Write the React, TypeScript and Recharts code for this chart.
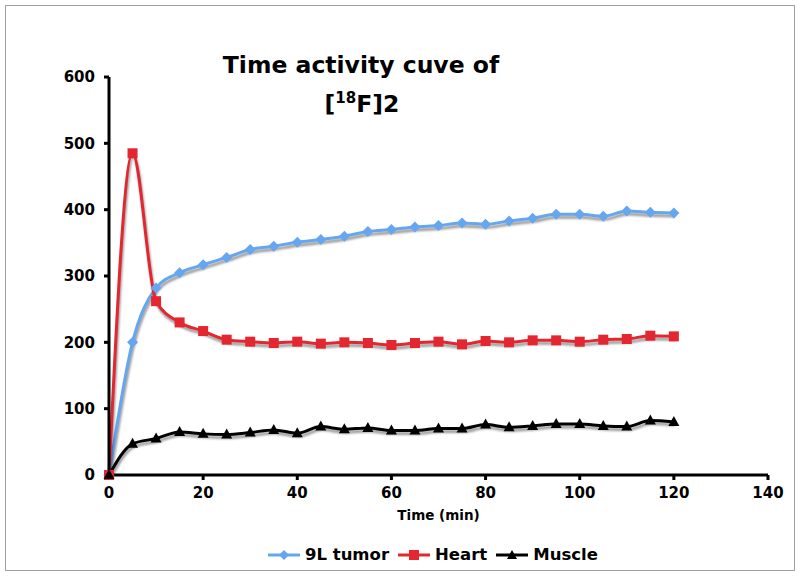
import React from 'react';
import { LineChart, Line, XAxis, YAxis } from 'recharts';

const times = [0, 5, 10, 15, 20, 25, 30, 35, 40, 45, 50, 55, 60, 65, 70, 75, 80, 85, 90, 95, 100, 105, 110, 115, 120];
const tumor = [0, 200, 282, 305, 317, 328, 340, 345, 351, 355, 360, 367, 370, 374, 376, 380, 378, 383, 387, 393, 393, 390, 398, 396, 395];
const heart = [0, 485, 262, 230, 217, 204, 201, 199, 201, 198, 200, 199, 196, 199, 201, 197, 202, 200, 203, 203, 201, 204, 205, 210, 209];
const muscle = [0, 47, 55, 65, 62, 61, 64, 68, 63, 73, 69, 71, 67, 67, 70, 70, 76, 72, 74, 77, 77, 74, 73, 82, 80];
const xTicks = [0, 20, 40, 60, 80, 100, 120, 140];
const yTicks = [0, 100, 200, 300, 400, 500, 600];
const seriesNames = ['9L tumor', 'Heart', 'Muscle'];

const data = times.map((t, i) => ({ t, tumor: tumor[i], heart: heart[i], muscle: muscle[i] }));

const BLUE = '#64a6f0';
const RED = '#e3262f';
const BLACK = '#000000';
const FONT = '"DejaVu Sans", Verdana, sans-serif';

const Diamond = (props: any) => {
  const { cx, cy, index } = props;
  if (cx == null || cy == null) return <g key={`d${index}`} />;
  const s = 5.5;
  return <path key={`d${index}`} d={`M${cx},${cy - s}L${cx + s},${cy}L${cx},${cy + s}L${cx - s},${cy}Z`} fill={BLUE} />;
};
const Square = (props: any) => {
  const { cx, cy, index } = props;
  if (cx == null || cy == null) return <g key={`s${index}`} />;
  const s = 5;
  return <rect key={`s${index}`} x={cx - s} y={cy - s} width={2 * s} height={2 * s} fill={RED} />;
};
const Triangle = (props: any) => {
  const { cx, cy, index } = props;
  if (cx == null || cy == null) return <g key={`t${index}`} />;
  return <path key={`t${index}`} d={`M${cx},${cy - 6}L${cx + 5.5},${cy + 4}L${cx - 5.5},${cy + 4}Z`} fill={BLACK} />;
};

const tickStyle = { fontFamily: FONT, fontWeight: 700, fontSize: 15, fill: '#000' };

const LegendItem = ({ color, shape, label }: { color: string; shape: string; label: string }) => (
  <div style={{ display: 'flex', alignItems: 'center', marginRight: 8 }}>
    <svg width={34} height={14}>
      <line x1={1} y1={7} x2={33} y2={7} stroke={color} strokeWidth={3} />
      {shape === 'diamond' && <path d="M17,2L22,7L17,12L12,7Z" fill={color} />}
      {shape === 'square' && <rect x={12} y={2} width={10} height={10} fill={color} />}
      {shape === 'triangle' && <path d="M17,2L22,11L12,11Z" fill={color} />}
    </svg>
    <span style={{ marginLeft: 4, fontFamily: FONT, fontWeight: 700, fontSize: 16.5, color: '#000' }}>{label}</span>
  </div>
);

export default function App() {
  return (
    <div style={{ position: 'absolute', left: 0, top: 0, width: 800, height: 576, background: '#fff' }}>
      <style>{`.shadowed { filter: drop-shadow(1px 3px 1px rgba(0,0,0,0.4)); }`}</style>
      <LineChart width={800} height={576} data={data} margin={{ top: 77, right: 32, left: 0, bottom: 71 }}>
        <XAxis
          type="number"
          dataKey="t"
          domain={[0, 140]}
          ticks={xTicks}
          interval={0}
          axisLine={{ stroke: '#000', strokeWidth: 3 }}
          tickLine={{ stroke: '#000', strokeWidth: 3 }}
          tickSize={5}
          tickMargin={7}
          tick={tickStyle}
          height={30}
          label={{ value: 'Time (min)', position: 'bottom', offset: 5, style: { fontFamily: FONT, fontWeight: 700, fontSize: 13.5, fill: '#000' } }}
        />
        <YAxis
          type="number"
          domain={[0, 600]}
          ticks={yTicks}
          interval={0}
          width={109}
          axisLine={{ stroke: '#000', strokeWidth: 3 }}
          tickLine={{ stroke: '#000', strokeWidth: 3 }}
          tickSize={5}
          tickMargin={9}
          tick={tickStyle}
        />
        <Line className="shadowed" type="monotone" dataKey="tumor" name={seriesNames[0]} stroke={BLUE} strokeWidth={3} dot={Diamond} activeDot={false} isAnimationActive={false} />
        <Line className="shadowed" type="monotone" dataKey="heart" name={seriesNames[1]} stroke={RED} strokeWidth={3} dot={Square} activeDot={false} isAnimationActive={false} />
        <Line className="shadowed" type="monotone" dataKey="muscle" name={seriesNames[2]} stroke={BLACK} strokeWidth={3} dot={Triangle} activeDot={false} isAnimationActive={false} />
      </LineChart>
      <svg width={800} height={576} style={{ position: 'absolute', left: 0, top: 0, pointerEvents: 'none' }}>
        <rect x={5.5} y={5.5} width={789} height={565} fill="none" stroke="#a0a0a0" strokeWidth={1} />
        <text x={361} y={73} textAnchor="middle" style={{ fontFamily: FONT, fontWeight: 700, fontSize: 23.5, fill: '#000' }}>Time activity cuve of</text>
        <text x={362} y={112} textAnchor="middle" style={{ fontFamily: FONT, fontWeight: 700, fontSize: 23.5, fill: '#000' }}>
          [<tspan fontSize={15} dy={-9}>18</tspan><tspan dy={9}>F]2</tspan>
        </text>
      </svg>
      <div style={{ position: 'absolute', left: 267, top: 545, display: 'flex', justifyContent: 'flex-start' }}>
        <LegendItem color={BLUE} shape="diamond" label={seriesNames[0]} />
        <LegendItem color={RED} shape="square" label={seriesNames[1]} />
        <LegendItem color={BLACK} shape="triangle" label={seriesNames[2]} />
      </div>
    </div>
  );
}
